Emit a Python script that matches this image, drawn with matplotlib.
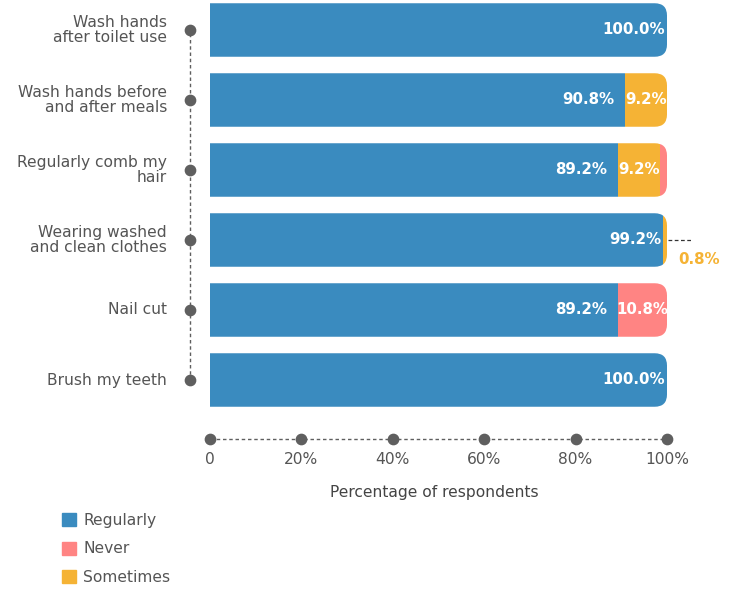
import matplotlib
matplotlib.use('Agg')
import matplotlib.pyplot as plt
from matplotlib.patches import FancyBboxPatch, Patch

# data
habits = ['Wash hands\nafter toilet use', 'Wash hands before\nand after meals',
          'Regularly comb my\nhair', 'Wearing washed\nand clean clothes',
          'Nail cut', 'Brush my teeth']
regularly = [100.0, 90.8, 89.2, 99.2, 89.2, 100.0]
sometimes = [0.0, 9.2, 9.2, 0.8, 0.0, 0.0]
never = [0.0, 0.0, 1.6, 0.0, 10.8, 0.0]
ticks = [0, 20, 40, 60, 80, 100]
tick_labels = ['0', '20%', '40%', '60%', '80%', '100%']

BLUE = '#3a8bbf'
ORANGE = '#f5b335'
PINK = '#ff8483'
GRAY = '#555555'
DOT = '#5f5f5f'

W, H = 737, 589
fig = plt.figure(figsize=(W / 100, H / 100), dpi=100)
# axes: x 0..100 spans px 210..667, full height
ax = fig.add_axes([210 / W, 0, 457 / W, 1])
ax.set_xlim(0, 100)
unit = 70.0  # px per row
top = 30.0   # px of first row centre
ax.set_ylim((H - top) / unit, -top / unit)
ax.axis('off')
px = 457 / 100  # px per percent

y = list(range(len(habits)))
bh = 53.5 / unit
b1 = ax.barh(y, regularly, height=bh, color=BLUE, linewidth=0)
b2 = ax.barh(y, sometimes, left=regularly, height=bh, color=ORANGE, linewidth=0)
left3 = [r + s for r, s in zip(regularly, sometimes)]
b3 = ax.barh(y, never, left=left3, height=bh, color=PINK, linewidth=0)

# round the right end of each bar
aspect = px / unit
for i in y:
    total = regularly[i] + sometimes[i] + never[i]
    clip = FancyBboxPatch((-10, i - bh / 2), total + 10, bh,
                          boxstyle='round,pad=0,rounding_size=2.7',
                          mutation_aspect=aspect, transform=ax.transData)
    for bars in (b1, b2, b3):
        bars[i].set_clip_path(clip)

# value labels
fs_val = 10.8
for i in y:
    r = regularly[i]
    pad = 0.5 if r >= 99 else 2.3
    ax.text(r - pad, i, f'{r:.1f}%', ha='right', va='center', color='white',
            fontsize=fs_val, fontweight='bold')
    if sometimes[i] >= 5:
        ax.text(r + sometimes[i] / 2, i, f'{sometimes[i]:.1f}%', ha='center',
                va='center', color='white', fontsize=fs_val, fontweight='bold')
    if never[i] >= 5:
        ax.text(left3[i] + never[i] / 2, i, f'{never[i]:.1f}%', ha='center',
                va='center', color='white', fontsize=fs_val, fontweight='bold')

# small 0.8% callout
ax.plot([100.3, 105.2], [3, 3], ls=(0, (3, 2)), color='#333333', lw=0.9,
        clip_on=False)
ax.text(102.5, 3 + 19 / unit, f'{sometimes[3]:.1f}%', ha='left', va='center',
        color=ORANGE, fontsize=fs_val, fontweight='bold', clip_on=False)

# left "axis" with dots and labels
fs = 11.2
xd = -20 / px
ax.plot([xd, xd], [-0.05, 5.07], ls=(0, (2.5, 2)), color=DOT, lw=1,
        clip_on=False, zorder=1)
ax.scatter([xd] * len(y), y, s=55, color=DOT, clip_on=False, zorder=2)
for i, lab in enumerate(habits):
    ax.text(-43 / px, i, lab, ha='right', va='center', color=GRAY,
            fontsize=fs, linespacing=0.92)

# bottom "axis"
ya = (439 - top) / unit
ax.plot([ticks[0], ticks[-1]], [ya, ya], ls=(0, (2.5, 2)), color=DOT, lw=1,
        clip_on=False, zorder=1)
ax.scatter(ticks, [ya] * len(ticks), s=55, color=DOT, clip_on=False, zorder=2)
for t, lab in zip(ticks, tick_labels):
    ax.text(t, (460 - top) / unit, lab, ha='center', va='center', color=GRAY,
            fontsize=fs)
ax.text(49, (492 - top) / unit, 'Percentage of respondents', ha='center',
        va='center', color='#444444', fontsize=fs)

handles = [Patch(color=BLUE, label='Regularly'),
           Patch(color=PINK, label='Never'),
           Patch(color=ORANGE, label='Sometimes')]
leg = fig.legend(handles=handles, loc='upper left',
                 bbox_to_anchor=(56 / W, 1 - 507 / H), frameon=False,
                 fontsize=fs, handlelength=0.9, handleheight=0.9,
                 handletextpad=0.45, labelspacing=0.85, borderaxespad=0)
for t in leg.get_texts():
    t.set_color(GRAY)

fig.savefig('out.png', dpi=100)
